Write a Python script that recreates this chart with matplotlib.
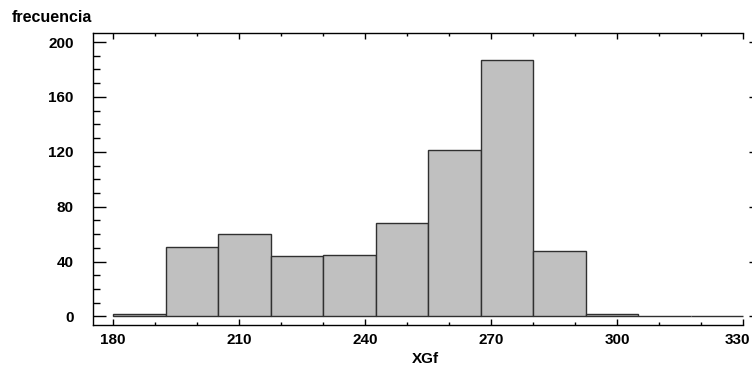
import numpy as np
import matplotlib
matplotlib.use('Agg')
import matplotlib.pyplot as plt
from matplotlib.ticker import MultipleLocator
from matplotlib.transforms import ScaledTranslation

# histogram of XGf
bin_edges = [180, 192.5, 205, 217.5, 230, 242.5, 255, 267.5, 280, 292.5, 305, 317.5, 330]
counts = [2, 51, 60, 44, 45, 68, 121, 187, 48, 2, 0, 0]
x_ticks = [180, 210, 240, 270, 300, 330]
y_ticks = [0, 40, 80, 120, 160, 200]

plt.rcParams['font.family'] = ['Liberation Sans', 'DejaVu Sans']
plt.rcParams['font.weight'] = 'bold'
fs = 11

fig = plt.figure(figsize=(7.52, 3.67), dpi=100)
# right edge of the frame sits just outside the picture
ax = fig.add_axes([93/752, 42/367, (757-93)/752, (325-33)/367])

lefts = bin_edges[:-1]
widths = np.diff(bin_edges)
ax.bar(lefts, counts, width=widths, align='edge', color='#c0c0c0',
       edgecolor='#303030', linewidth=1.0)

ax.set_xlim(175.2, 180 + (757-113)/4.2)
ax.set_ylim(-6.2, 206.6)
ax.set_xticks(x_ticks)
ax.set_yticks(y_ticks)
ax.xaxis.set_minor_locator(MultipleLocator(10))
ax.yaxis.set_minor_locator(MultipleLocator(10))

ax.tick_params(axis='x', which='major', direction='in', length=4.3, width=1,
               top=True, labelsize=fs, pad=5.5)
ax.tick_params(axis='x', which='minor', direction='in', length=2.2, width=1, top=True)
ax.tick_params(axis='y', which='major', direction='in', length=9.4, width=1,
               right=True, labelsize=fs, pad=14)
ax.tick_params(axis='y', which='minor', direction='in', length=5, width=1, right=False)
for t in ax.yaxis.get_major_ticks():
    t.tick2line.set_markersize(6)

for s in ax.spines.values():
    s.set_linewidth(1.0)
ax.spines['top'].set_bounds(175.2, 330)
ax.spines['bottom'].set_bounds(175.2, 330)

# keep the last x label inside the picture
fig.canvas.draw()
last = ax.get_xticklabels()[-1]
last.set_transform(last.get_transform() + ScaledTranslation(-6/100, 0, fig.dpi_scale_trans))

ax.set_xlabel('XGf', fontsize=fs, fontweight='bold', labelpad=4)
fig.text(12/752, 1 - 18/367, 'frecuencia', fontsize=11.5, fontweight='bold',
         ha='left', va='center')

fig.savefig('out.png', dpi=100)
